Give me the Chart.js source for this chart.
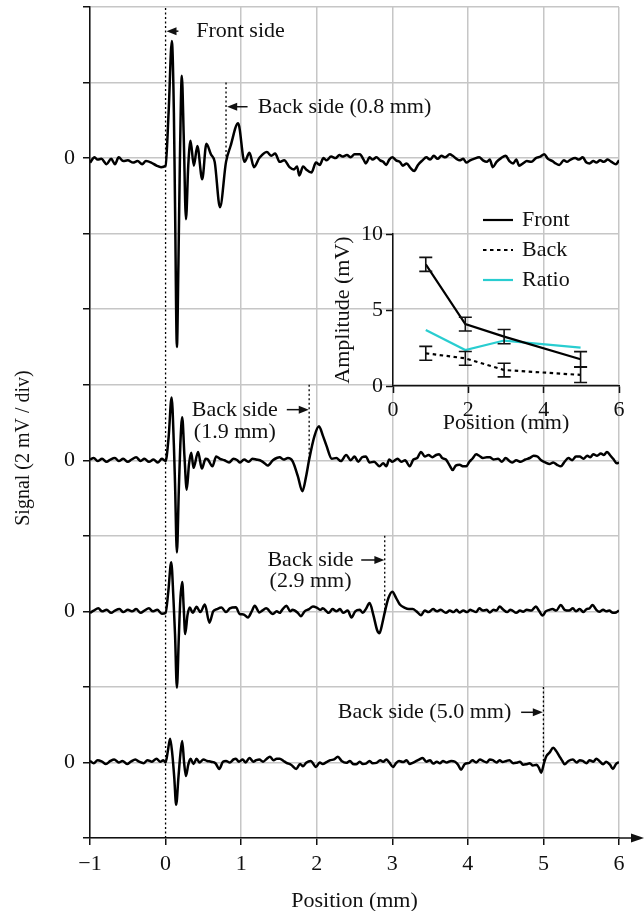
<!DOCTYPE html>
<html>
<head>
<meta charset="utf-8">
<script src="https://cdn.jsdelivr.net/npm/chart.js@4.4.1/dist/chart.umd.min.js"></script>
<style>
  html, body { margin: 0; padding: 0; background: #fff; }
  #wrap { position: relative; width: 644px; height: 911px; }
  #main { position: absolute; left: 0; top: 0; }
  #inset { position: absolute; left: 320px; top: 180px; }
</style>
</head>
<body>
<div id="wrap">
  <canvas id="main" width="644" height="911"></canvas>
  <canvas id="inset" width="324" height="260"></canvas>
</div>
<script>
/* --------------- Echo traces: [position (mm), signal (mV)] --------------------- */
const trace08 = [
  [-1.00,-0.12],[-0.94,0.02],[-0.90,-0.04],[-0.85,-0.02],[-0.78,-0.16],[-0.72,-0.02],[-0.67,-0.16],[-0.62,0.02],
  [-0.56,-0.08],[-0.50,-0.06],[-0.43,-0.12],[-0.37,-0.08],[-0.31,-0.16],[-0.26,-0.08],[-0.19,-0.12],[-0.12,-0.20],
  [-0.06,-0.24],[0.00,-0.20],
  [0.04,1.2],[0.083,3.1],[0.11,1.2],[0.125,-1.2],[0.15,-5.0],[0.17,-2.8],[0.19,0.0],[0.215,2.18],[0.24,0.6],
  [0.27,-1.62],[0.30,-0.2],[0.33,0.46],[0.374,-0.2],[0.42,0.32],[0.485,-0.56],[0.54,0.38],[0.60,0.1],[0.65,-0.1],
  [0.72,-1.3],[0.80,-0.1],[0.86,0.32],[0.96,0.92],[1.045,-0.1],[1.11,0.14],[1.17,-0.24],[1.24,0.0],[1.34,0.16],
  [1.40,0.06],[1.45,0.12],[1.51,-0.10],[1.57,-0.06],[1.64,-0.24],[1.70,-0.30],[1.74,-0.22],[1.77,-0.46],[1.82,-0.22],
  [1.86,-0.30],[1.93,-0.38],[1.99,-0.12],[2.04,-0.18],[2.09,0.00],[2.13,-0.06],[2.19,0.04],[2.25,0.00],[2.30,0.08],
  [2.34,0.04],[2.40,0.08],[2.45,0.02],[2.50,0.10],[2.57,0.10],[2.62,-0.04],[2.65,-0.14],[2.70,0.02],[2.74,-0.04],
  [2.79,0.02],[2.84,-0.06],[2.88,-0.10],[2.92,-0.18],[2.96,-0.04],[3.00,0.02],[3.05,-0.06],[3.10,-0.10],[3.14,-0.20],
  [3.19,-0.14],[3.24,-0.26],[3.29,-0.34],[3.34,-0.18],[3.40,-0.06],[3.45,0.02],[3.50,-0.04],[3.55,0.06],[3.60,-0.02],
  [3.65,0.06],[3.70,0.02],[3.76,0.10],[3.80,0.06],[3.85,-0.02],[3.89,-0.06],[3.94,-0.02],[3.98,-0.12],[4.03,-0.06],
  [4.08,-0.02],[4.15,0.02],[4.20,-0.06],[4.25,-0.10],[4.29,-0.04],[4.33,-0.24],[4.38,-0.10],[4.44,0.00],[4.50,0.06],
  [4.55,-0.08],[4.60,-0.14],[4.64,-0.04],[4.68,-0.20],[4.73,-0.14],[4.78,-0.08],[4.84,-0.10],[4.90,0.00],[4.96,0.04],
  [5.01,0.10],[5.06,-0.02],[5.12,-0.08],[5.16,-0.14],[5.21,-0.18],[5.27,-0.06],[5.31,-0.10],[5.36,-0.04],[5.42,0.00],
  [5.47,-0.04],[5.52,0.02],[5.57,-0.12],[5.61,-0.14],[5.66,-0.08],[5.70,-0.12],[5.75,-0.06],[5.80,-0.10],[5.85,-0.04],
  [5.90,-0.10],[5.96,-0.16],[6.00,-0.06]
];
const trace19 = [
  [-1.00,0.02],[-0.95,0.06],[-0.90,-0.02],[-0.84,0.04],[-0.78,-0.04],[-0.73,0.02],[-0.67,0.06],[-0.62,-0.02],
  [-0.56,0.04],[-0.50,-0.04],[-0.45,0.02],[-0.39,0.08],[-0.33,-0.02],[-0.28,0.04],[-0.22,-0.04],[-0.16,0.02],
  [-0.10,-0.06],[-0.05,0.04],[0.00,-0.02],
  [0.04,0.6],[0.08,1.66],[0.11,0.4],[0.125,-0.6],[0.15,-2.44],[0.175,-0.8],[0.195,0.4],[0.22,1.14],[0.25,0.1],
  [0.28,-0.78],[0.31,-0.1],[0.34,0.2],[0.37,-0.2],[0.43,0.22],[0.48,-0.22],[0.53,0.04],[0.56,0.02],[0.62,-0.16],
  [0.67,0.1],[0.72,0.04],
  [0.78,0.00],[0.84,-0.06],[0.90,0.04],[0.95,0.00],[0.98,-0.06],[1.04,0.02],[1.10,-0.04],[1.15,0.04],[1.20,0.02],
  [1.27,-0.02],[1.31,-0.08],[1.35,-0.14],[1.42,0.00],[1.47,0.06],[1.51,0.08],[1.56,0.02],[1.62,0.06],[1.68,-0.02],
  [1.75,-0.42],[1.81,-0.82],[1.86,-0.42],[1.90,0.02],[1.97,0.64],[2.03,0.90],[2.08,0.66],[2.13,0.38],[2.20,0.04],
  [2.26,0.06],[2.32,-0.02],[2.39,0.14],[2.45,0.00],[2.50,0.10],[2.55,-0.04],[2.60,0.08],[2.65,0.10],[2.70,-0.06],
  [2.76,-0.04],[2.83,-0.16],[2.88,-0.08],[2.92,-0.16],[2.96,0.02],[3.00,-0.04],[3.07,0.04],[3.12,-0.04],[3.17,0.00],
  [3.23,-0.16],[3.28,0.02],[3.33,0.06],[3.38,0.22],[3.43,0.10],[3.48,0.14],[3.53,0.08],[3.58,0.14],[3.62,0.16],
  [3.66,0.06],[3.71,0.02],[3.76,-0.14],[3.80,-0.26],[3.84,-0.14],[3.89,-0.12],[3.94,-0.16],[3.98,-0.16],[4.02,-0.04],
  [4.06,0.04],[4.11,0.16],[4.15,0.12],[4.20,0.06],[4.25,0.08],[4.29,0.08],[4.34,0.02],[4.40,0.04],[4.45,-0.04],
  [4.50,0.06],[4.55,-0.02],[4.59,-0.06],[4.64,0.00],[4.70,-0.04],[4.76,0.02],[4.82,0.06],[4.87,0.12],[4.92,0.10],
  [4.97,0.00],[5.03,-0.06],[5.08,-0.10],[5.13,-0.06],[5.18,-0.12],[5.23,-0.16],[5.28,-0.04],[5.33,0.06],[5.38,0.00],
  [5.43,0.10],[5.48,0.10],[5.53,0.04],[5.58,0.12],[5.62,0.08],[5.66,0.16],[5.71,0.12],[5.76,0.18],[5.80,0.14],
  [5.84,0.22],[5.88,0.14],[5.93,0.02],[5.97,-0.08],[6.00,-0.06]
];
const trace29 = [
  [-1.00,-0.04],[-0.95,0.02],[-0.89,0.08],[-0.84,0.00],[-0.78,0.04],[-0.72,-0.04],[-0.67,0.02],[-0.61,0.06],
  [-0.56,-0.02],[-0.50,0.04],[-0.44,0.00],[-0.39,0.06],[-0.33,-0.04],[-0.28,0.02],[-0.22,0.08],[-0.17,0.00],
  [-0.11,0.04],[-0.05,-0.06],[0.00,-0.04],
  [0.035,0.5],[0.075,1.3],[0.105,0.3],[0.125,-0.6],[0.15,-2.02],[0.175,-0.7],[0.195,0.3],[0.22,0.78],[0.24,0.1],
  [0.26,-0.6],[0.29,-0.1],[0.32,0.1],[0.36,-0.04],[0.41,0.12],[0.46,-0.02],[0.52,0.18],[0.58,-0.3],[0.63,0.0],
  [0.68,0.06],[0.74,0.1],
  [0.80,-0.02],[0.85,0.08],[0.93,0.11],[0.98,-0.07],[1.03,-0.08],[1.09,-0.16],[1.14,0.00],[1.18,0.15],[1.24,-0.03],
  [1.28,0.02],[1.33,0.08],[1.42,-0.07],[1.47,0.00],[1.51,-0.04],[1.55,0.06],[1.60,0.15],[1.65,0.00],[1.68,0.04],
  [1.75,-0.04],[1.79,-0.13],[1.84,0.00],[1.90,0.06],[1.95,0.13],[2.00,0.10],[2.05,0.04],[2.08,0.08],[2.16,-0.04],
  [2.21,0.06],[2.26,0.00],[2.31,0.06],[2.35,-0.04],[2.41,0.02],[2.46,-0.16],[2.51,0.00],[2.57,0.04],[2.61,-0.04],
  [2.65,0.06],[2.70,0.22],
  [2.75,-0.10],[2.80,-0.50],[2.83,-0.58],[2.87,-0.30],[2.91,0.06],[2.95,0.36],[3.00,0.52],[3.05,0.36],[3.10,0.18],
  [3.16,0.10],[3.22,0.06],[3.27,0.06],[3.32,0.00],[3.38,-0.10],[3.43,0.02],[3.48,-0.02],[3.54,0.06],[3.59,0.00],
  [3.64,0.04],[3.71,-0.04],[3.76,0.02],[3.81,-0.02],[3.85,0.04],[3.89,-0.03],[3.94,0.02],[3.99,-0.02],[4.03,0.04],
  [4.06,0.02],[4.11,-0.02],[4.15,0.08],[4.20,0.02],[4.25,0.04],[4.29,-0.03],[4.34,0.04],[4.38,0.02],[4.42,0.13],
  [4.47,0.04],[4.52,-0.02],[4.56,0.04],[4.59,0.02],[4.64,-0.04],[4.69,0.02],[4.73,-0.01],[4.78,0.04],[4.84,0.02],
  [4.90,0.13],[4.94,0.02],[4.99,-0.11],[5.03,0.00],[5.08,0.04],[5.12,0.06],[5.17,0.02],[5.23,0.17],[5.28,0.04],
  [5.34,0.02],[5.39,0.08],[5.43,0.00],[5.48,0.06],[5.53,-0.02],[5.57,0.06],[5.61,0.08],[5.65,0.17],[5.70,0.04],
  [5.74,-0.01],[5.79,0.04],[5.83,0.00],[5.87,0.02],[5.92,-0.04],[5.96,-0.03],[6.00,0.02]
];
const trace50 = [
  [-1.00,0.04],[-0.95,-0.02],[-0.90,0.06],[-0.84,0.02],[-0.79,-0.04],[-0.73,0.04],[-0.68,0.08],[-0.62,0.00],
  [-0.57,0.04],[-0.51,-0.04],[-0.46,0.02],[-0.40,0.08],[-0.35,0.02],[-0.29,-0.02],[-0.24,0.06],[-0.18,0.02],
  [-0.12,0.10],[-0.07,0.02],[-0.03,0.06],[0.00,0.00],
  [0.03,0.3],[0.06,0.63],[0.09,0.2],[0.115,-0.4],[0.14,-1.12],[0.17,-0.4],[0.195,0.2],[0.22,0.57],[0.245,0.0],
  [0.27,-0.36],[0.30,-0.06],[0.33,0.10],[0.37,-0.04],[0.41,0.10],[0.45,0.00],[0.50,0.08],[0.55,0.04],[0.60,0.02],
  [0.66,-0.02],[0.71,-0.17],[0.76,0.02],
  [0.80,0.04],[0.85,0.00],[0.90,0.08],[0.93,0.10],[0.97,0.02],[1.02,0.08],[1.06,0.00],[1.11,0.12],[1.16,0.02],
  [1.20,0.06],[1.24,0.08],[1.29,0.02],[1.34,0.10],[1.38,0.15],[1.43,0.06],[1.47,0.10],[1.51,0.10],[1.56,0.04],
  [1.60,-0.01],[1.66,-0.06],[1.73,-0.17],[1.78,-0.04],[1.82,-0.10],[1.86,-0.01],[1.92,0.04],[1.99,-0.12],[2.04,0.00],
  [2.08,-0.04],[2.13,0.01],[2.18,0.06],[2.23,0.08],[2.28,0.15],[2.33,0.04],[2.39,-0.01],[2.44,0.04],[2.48,-0.04],
  [2.52,-0.05],[2.57,0.02],[2.61,-0.04],[2.65,-0.03],[2.70,0.04],[2.74,-0.02],[2.79,-0.01],[2.84,0.06],[2.88,0.02],
  [2.92,0.08],[2.96,0.00],[3.01,-0.12],[3.05,-0.02],[3.09,0.04],[3.14,0.01],[3.19,0.06],[3.23,-0.04],[3.27,-0.01],
  [3.32,0.04],[3.36,0.08],[3.40,0.12],[3.45,0.02],[3.50,0.06],[3.54,-0.03],[3.59,0.02],[3.63,-0.02],[3.67,0.04],
  [3.72,0.00],[3.78,0.04],[3.83,0.02],[3.87,-0.06],[3.91,-0.19],[3.96,-0.04],[4.02,-0.01],[4.06,0.06],[4.11,0.00],
  [4.16,0.08],[4.20,0.04],[4.25,0.00],[4.29,0.08],[4.33,0.06],[4.38,0.00],[4.42,0.06],[4.46,0.01],[4.51,0.04],
  [4.55,0.06],[4.60,-0.02],[4.64,-0.01],[4.69,0.02],[4.73,-0.06],[4.77,-0.05],[4.82,-0.02],[4.86,-0.08],[4.91,-0.06],
  [4.94,-0.14],[4.97,-0.27],
  [5.01,0.00],[5.04,0.17],[5.08,0.26],[5.13,0.39],[5.17,0.30],[5.21,0.17],[5.25,0.04],[5.28,-0.05],[5.33,0.04],
  [5.39,0.08],[5.44,0.00],[5.48,0.06],[5.52,0.04],[5.57,-0.02],[5.61,0.06],[5.66,0.02],[5.70,0.10],[5.74,0.04],
  [5.79,-0.05],[5.83,0.02],[5.88,-0.06],[5.92,-0.17],[5.96,-0.04],[6.00,0.01]
];
const traces = [trace08, trace19, trace29, trace50];
const traceZeros = [9, 5, 3, 1];          // grid division holding each trace's 0 line
const backSides = [0.8, 1.9, 2.9, 5.0];   // back side position of each sample (mm)
const mvPerDiv = 2;

/* --------------- Inset: amplitudes (mV) --------------------- */
const ampPositions = [0.87, 1.92, 2.95, 4.98];
const frontAmp = [8.0, 4.07, 3.25, 1.76];
const frontErr = [0.46, 0.45, 0.47, 0.5];
const backAmp = [2.15, 1.82, 1.05, 0.73];
const backErr = [0.46, 0.45, 0.45, 0.5];
const ratioAmp = [3.69, 2.37, 2.99, 2.53];

/* --------------- Styles --------------------- */
const serif = "'Liberation Serif', 'Times New Roman', serif";
const gridGray = "#c6c6c6";
const cyan = "#29cdd0";
Chart.defaults.font.family = serif;
Chart.defaults.font.size = 22;
Chart.defaults.color = "#111";

/* --------------- Labels placed in data units --------------------- */
const notes = [
  { text: ["Front side"], tx: 0.405, ty: [10.68], align: "left", from: 0.17, to: 0.012, ay: 10.68 },
  { text: ["Back side (0.8 mm)"], tx: 1.22, ty: [9.68], align: "left", from: 1.085, to: 0.815, ay: 9.68 },
  { text: ["Back side", "(1.9 mm)"], tx: 0.916, ty: [5.665, 5.377], align: "center", from: 1.604, to: 1.895, ay: 5.67 },
  { text: ["Back side", "(2.9 mm)"], tx: 1.918, ty: [3.68, 3.393], align: "center", from: 2.589, to: 2.895, ay: 3.68 },
  { text: ["Back side (5.0 mm)"], tx: 3.426, ty: [1.664], align: "center", from: 4.705, to: 4.992, ay: 1.664 },
];

const drawArrow = (ctx, x0, x1, yy) => {
  const dir = Math.sign(x1 - x0);
  ctx.lineWidth = 1.5;
  ctx.beginPath();
  ctx.moveTo(x0, yy);
  ctx.lineTo(x1 - dir * 6, yy);
  ctx.stroke();
  ctx.beginPath();
  ctx.moveTo(x1, yy);
  ctx.lineTo(x1 - dir * 10, yy - 4);
  ctx.lineTo(x1 - dir * 10, yy + 4);
  ctx.closePath();
  ctx.fill();
};

const annotate = {
  id: "annotate",
  afterDatasetsDraw(chart) {
    const { ctx, scales: { x, y } } = chart;
    ctx.save();
    ctx.fillStyle = "#111";
    ctx.strokeStyle = "#111";
    ctx.font = "22px " + serif;
    ctx.textBaseline = "middle";
    notes.forEach((n) => {
      ctx.textAlign = n.align;
      n.text.forEach((t, i) => ctx.fillText(t, x.getPixelForValue(n.tx), y.getPixelForValue(n.ty[i])));
      drawArrow(ctx, x.getPixelForValue(n.from), x.getPixelForValue(n.to), y.getPixelForValue(n.ay));
    });
    ctx.restore();
  },
  afterDraw(chart) {
    const { ctx, chartArea } = chart;
    const b = chartArea.bottom;
    ctx.save();
    ctx.fillStyle = "#111";
    ctx.strokeStyle = "#111";
    // axis arrow on the right
    ctx.lineWidth = 1.5;
    ctx.beginPath();
    ctx.moveTo(chartArea.right, b);
    ctx.lineTo(634, b);
    ctx.stroke();
    ctx.beginPath();
    ctx.moveTo(644, b);
    ctx.lineTo(631, b - 4.5);
    ctx.lineTo(631, b + 4.5);
    ctx.closePath();
    ctx.fill();
    // axis titles
    ctx.textAlign = "center";
    ctx.textBaseline = "middle";
    ctx.font = "22px " + serif;
    ctx.fillText("Position (mm)", (chartArea.left + chartArea.right) / 2, 901);
    ctx.translate(24, 448);
    ctx.rotate(-Math.PI / 2);
    ctx.font = "20px " + serif;
    ctx.fillText("Signal (2 mV / div)", 0, 0);
    ctx.restore();
  },
};

// keep the plot box exactly where the axes are sized, no label overhang padding
const noOverhang = (s) => {
  s.paddingTop = 0;
  s.paddingBottom = 0;
  s.paddingLeft = 0;
  s.paddingRight = 0;
};

/* --------------- Main chart --------------------- */
const traceSets = traces.map((tr, i) => ({
  data: tr.map((p) => ({ x: p[0], y: traceZeros[i] + p[1] / mvPerDiv })),
  borderColor: "#000",
  borderWidth: 2.5,
  cubicInterpolationMode: "monotone",
}));
const dotted = { borderColor: "#000", borderWidth: 1.3, borderDash: [2, 2.5] };
const markerSets = [
  { data: [{ x: 0, y: 0 }, { x: 0, y: 11 }], ...dotted },
  ...backSides.map((b, i) => ({
    data: [{ x: b, y: traceZeros[i] + 1 }, { x: b, y: traceZeros[i] }],
    ...dotted,
  })),
];

new Chart(document.getElementById("main"), {
  type: "line",
  plugins: [annotate],
  data: { datasets: [...traceSets, ...markerSets] },
  options: {
    responsive: false,
    animation: false,
    events: [],
    devicePixelRatio: 1,
    layout: { padding: { left: 0, top: 7, right: 25, bottom: 0 } },
    elements: { point: { radius: 0 } },
    plugins: { legend: { display: false }, tooltip: { enabled: false } },
    scales: {
      x: {
        type: "linear",
        min: -1,
        max: 6,
        afterFit: (s) => { s.height = 73; noOverhang(s); },
        ticks: {
          stepSize: 1,
          autoSkip: false,
          maxRotation: 0,
          padding: 6,
          callback: (v) => (v < 0 ? "\u2212" + Math.abs(v) : String(v)),
        },
        grid: {
          color: (c) => (c.tick && c.tick.value === 0 ? "rgba(0,0,0,0)" : gridGray),
          lineWidth: 1.5,
          tickLength: 7,
          tickColor: "#111",
          tickWidth: 1.5,
        },
        border: { display: true, color: "#111", width: 1.5 },
      },
      y: {
        type: "linear",
        min: 0,
        max: 11,
        afterFit: (s) => { s.width = 90; noOverhang(s); },
        ticks: {
          stepSize: 1,
          autoSkip: false,
          padding: 8,
          callback: (v) => (traceZeros.includes(v) ? "0" : ""),
        },
        grid: {
          color: gridGray,
          lineWidth: 1.5,
          tickLength: 7,
          tickColor: "#111",
          tickWidth: 1.5,
        },
        border: { display: true, color: "#111", width: 1.5 },
      },
    },
  },
});

/* --------------- Inset chart --------------------- */
const errorBars = {
  id: "errorBars",
  afterDatasetsDraw(chart) {
    const { ctx, scales: { x, y } } = chart;
    ctx.save();
    ctx.strokeStyle = "#111";
    ctx.lineWidth = 1.6;
    chart.data.datasets.forEach((ds) => {
      if (!ds.errors) return;
      ds.data.forEach((v, i) => {
        const px = x.getPixelForValue(ampPositions[i]);
        const top = y.getPixelForValue(v + ds.errors[i]);
        const bot = y.getPixelForValue(v - ds.errors[i]);
        ctx.beginPath();
        ctx.moveTo(px, top); ctx.lineTo(px, bot);
        ctx.moveTo(px - 6.5, top); ctx.lineTo(px + 6.5, top);
        ctx.moveTo(px - 6.5, bot); ctx.lineTo(px + 6.5, bot);
        ctx.stroke();
      });
    });
    ctx.restore();
  },
  afterDraw(chart) {
    // legend, top right above the plot
    const { ctx, chartArea } = chart;
    ctx.save();
    ctx.font = "22px " + serif;
    ctx.textBaseline = "middle";
    ctx.textAlign = "left";
    ctx.fillStyle = "#111";
    chart.data.datasets.forEach((ds, i) => {
      const yy = chartArea.top - 14 + i * 30;
      ctx.strokeStyle = ds.borderColor;
      ctx.lineWidth = ds.borderWidth;
      ctx.setLineDash(ds.borderDash || []);
      ctx.beginPath();
      ctx.moveTo(163, yy);
      ctx.lineTo(193, yy);
      ctx.stroke();
      ctx.fillText(ds.label, 202, yy);
    });
    ctx.restore();
  },
};

new Chart(document.getElementById("inset"), {
  type: "line",
  plugins: [errorBars],
  data: {
    labels: ampPositions,
    datasets: [
      { label: "Front", data: frontAmp, errors: frontErr, borderColor: "#000", borderWidth: 2.2 },
      { label: "Back", data: backAmp, errors: backErr, borderColor: "#000", borderWidth: 2.2, borderDash: [3.5, 3.5] },
      { label: "Ratio", data: ratioAmp, borderColor: cyan, borderWidth: 2.2 },
    ],
  },
  options: {
    responsive: false,
    animation: false,
    events: [],
    devicePixelRatio: 1,
    layout: { padding: { left: 0, top: 54, right: 25, bottom: 0 } },
    elements: { point: { radius: 0 } },
    plugins: { legend: { display: false }, tooltip: { enabled: false } },
    scales: {
      x: {
        type: "linear",
        min: 0,
        max: 6,
        afterFit: (s) => { s.height = 54; noOverhang(s); },
        ticks: { stepSize: 2, padding: 4, maxRotation: 0 },
        grid: { drawOnChartArea: false, tickLength: 7, tickColor: "#111", tickWidth: 1.5 },
        border: { display: true, color: "#111", width: 1.5 },
        title: { display: true, text: "Position (mm)", font: { size: 22 }, padding: { top: 0, bottom: 4 } },
      },
      y: {
        type: "linear",
        min: 0,
        max: 10,
        afterFit: (s) => { s.width = 73; noOverhang(s); },
        ticks: { stepSize: 5, padding: 3 },
        grid: { drawOnChartArea: false, tickLength: 7, tickColor: "#111", tickWidth: 1.5 },
        border: { display: true, color: "#111", width: 1.5 },
        title: { display: true, text: "Amplitude (mV)", font: { size: 22 }, padding: { top: 10, bottom: 0 } },
      },
    },
  },
});
</script>
</body>
</html>
